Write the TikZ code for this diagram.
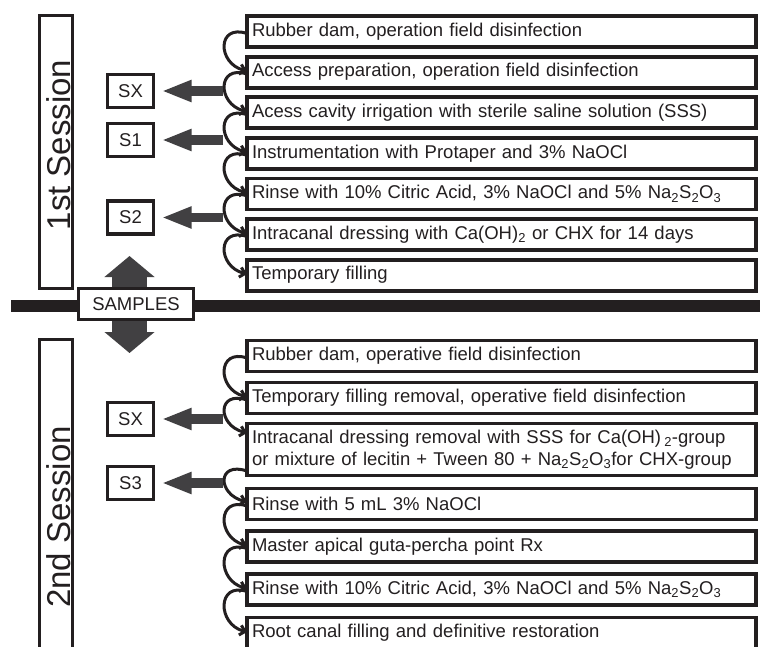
\documentclass[tikz,border=0pt]{standalone}
\usepackage{fontspec}
\setmainfont{Liberation Sans}
\usetikzlibrary{arrows.meta,calc}
\definecolor{ink}{RGB}{35,31,32}
\definecolor{agray}{RGB}{65,64,66}
\begin{document}
\begin{tikzpicture}[x=1pt,y=-1pt,
  stepbox/.style={draw=ink, line width=3.8pt, fill=white, anchor=west, outer sep=0pt,
    inner xsep=5pt, inner ysep=0pt, text width=499pt, align=left, minimum height=31pt,
    font=\fontsize{18.5}{22.5}\selectfont, text=ink},
  sbox/.style={draw=ink, line width=3.5pt, fill=white, outer sep=0pt, inner sep=0pt,
    minimum width=46pt, minimum height=33pt, font=\fontsize{18.5}{22}\selectfont, text=ink},
  sessbox/.style={draw=ink, line width=3.5pt, outer sep=0pt, inner sep=0pt, minimum width=33pt},
  sesslabel/.style={rotate=90, inner sep=0pt, font=\fontsize{33}{36}\selectfont, text=ink},
  conn/.style={draw=ink, line width=3pt, -{Straight Barb[length=5pt,width=10pt]}},
  grayarr/.style={draw=agray, line width=9.5pt, -{Triangle[length=30pt,width=20pt]},
    shorten >=8pt, shorten <=1.5pt},
  bigarr/.style={draw=agray, line width=35pt,
    {Triangle[length=21pt,width=49pt]}-{Triangle[length=21pt,width=49pt]}},
  barline/.style={draw=ink, line width=12pt}
]
\useasboundingbox (0,0) rectangle (760,646);
\clip (0,0) rectangle (760,646);

% session boxes
\node[sessbox, minimum height=273pt] (sess1) at (56,152) {};
\node[sesslabel] (sess1lab) at (58.5,145) {1st Session};
\node[sessbox, minimum height=360pt] (sess2) at (56,519.5) {};
\node[sesslabel] (sess2lab) at (58.5,517) {2nd Session};

% big double arrow, bar, samples
\coordinate (uptip) at (129.5,256);
\coordinate (downtip) at (129.5,353);
\draw[bigarr] (uptip) -- (downtip);
\coordinate (barL) at (11,306);
\coordinate (barR) at (760,306);
\draw[barline] (barL) -- (barR);
\node[draw=ink, line width=3.5pt, fill=white, outer sep=0pt, inner sep=0pt,
  minimum width=115pt, minimum height=31pt, font=\fontsize{18.5}{22}\selectfont, text=ink]
  (samples) at (136,304) {SAMPLES};

% first session steps
\node[stepbox] (t1) at (247,31.5) {Rubber dam, operation field disinfection};
\node[stepbox] (t2) at (247,72.1) {Access preparation, operation field disinfection};
\node[stepbox] (t3) at (247,112.7) {Acess cavity irrigation with sterile saline solution (SSS)};
\node[stepbox] (t4) at (247,153.3) {Instrumentation with Protaper and 3\% NaOCl};
\node[stepbox] (t5) at (247,193.9) {Rinse with 10\% Citric Acid, 3\% NaOCl and 5\% Na\textsubscript{2}S\textsubscript{2}O\textsubscript{3}};
\node[stepbox] (t6) at (247,234.5) {Intracanal dressing with Ca(OH)\textsubscript{2} or CHX for 14 days};
\node[stepbox] (t7) at (247,275.1) {Temporary filling};

% second session steps
\node[stepbox] (b1) at (247,356) {Rubber dam, operative field disinfection};
\node[stepbox] (b2) at (247,398) {Temporary filling removal, operative field disinfection};
\node[stepbox, minimum height=52pt] (b3) at (247,449.5) {Intracanal dressing removal with SSS for Ca(OH)\,\textsubscript{2}-group\\or mixture of lecitin + Tween 80 + Na\textsubscript{2}S\textsubscript{2}O\textsubscript{3}for CHX-group};
\node[stepbox] (b4) at (247,504) {Rinse with 5 mL 3\% NaOCl};
\node[stepbox] (b5) at (247,546.5) {Master apical guta-percha point Rx};
\node[stepbox] (b6) at (247,589.5) {Rinse with 10\% Citric Acid, 3\% NaOCl and 5\% Na\textsubscript{2}S\textsubscript{2}O\textsubscript{3}};
\node[stepbox] (b7) at (247,633) {Root canal filling and definitive restoration};

% sample boxes
\node[sbox] (sx1) at (130.5,91) {SX};
\node[sbox] (s1) at (130.5,140) {S1};
\node[sbox] (s2) at (130.5,217.5) {S2};
\node[sbox] (sx2) at (130.5,419) {SX};
\node[sbox] (s3) at (130.5,483) {S3};

% connectors, first session
\draw[conn] ([yshift=-2pt]t1.west) .. controls +(-30,-10) and +(-30,-8) .. ([yshift=1pt]t2.west) coordinate[pos=.5] (m12);
\draw[conn] ([yshift=-2pt]t2.west) .. controls +(-30,-10) and +(-30,-8) .. ([yshift=1pt]t3.west) coordinate[pos=.5] (m23);
\draw[conn] ([yshift=-2pt]t3.west) .. controls +(-30,-10) and +(-30,-8) .. ([yshift=1pt]t4.west) coordinate[pos=.5] (m34);
\draw[conn] ([yshift=-2pt]t4.west) .. controls +(-30,-10) and +(-30,-8) .. ([yshift=1pt]t5.west) coordinate[pos=.5] (m45);
\draw[conn] ([yshift=-2pt]t5.west) .. controls +(-30,-10) and +(-30,-8) .. ([yshift=1pt]t6.west) coordinate[pos=.5] (m56);
\draw[conn] ([yshift=-2pt]t6.west) .. controls +(-30,-10) and +(-30,-8) .. ([yshift=1pt]t7.west) coordinate[pos=.5] (m67);

% connectors, second session
\draw[conn] ([yshift=-2pt]b1.west) .. controls +(-30,-10) and +(-30,-8) .. ([yshift=1pt]b2.west) coordinate[pos=.5] (n12);
\draw[conn] ([yshift=-2pt]b2.west) .. controls +(-30,-10) and +(-30,-8) .. ([yshift=16.5pt]b3.west) coordinate[pos=.5] (n23);
\draw[conn] ([yshift=-21.5pt]b3.west) .. controls +(-30,-10) and +(-30,-8) .. ([yshift=2pt]b4.west) coordinate[pos=.5] (n34);
\draw[conn] ([yshift=-2pt]b4.west) .. controls +(-30,-10) and +(-30,-8) .. ([yshift=1pt]b5.west) coordinate[pos=.5] (n45);
\draw[conn] ([yshift=-2pt]b5.west) .. controls +(-30,-10) and +(-30,-8) .. ([yshift=1pt]b6.west) coordinate[pos=.5] (n56);
\draw[conn] ([yshift=-2pt]b6.west) .. controls +(-30,-10) and +(-30,-8) .. ([yshift=1pt]b7.west) coordinate[pos=.5] (n67);

% sample arrows
\draw[grayarr] (sx1.east -| m23) -- (sx1.east);
\draw[grayarr] (s1.east -| m34) -- (s1.east);
\draw[grayarr] (s2.east -| m56) -- (s2.east);
\draw[grayarr] (sx2.east -| n23) -- (sx2.east);
\draw[grayarr] (s3.east -| n34) -- (s3.east);
\end{tikzpicture}
\end{document}
